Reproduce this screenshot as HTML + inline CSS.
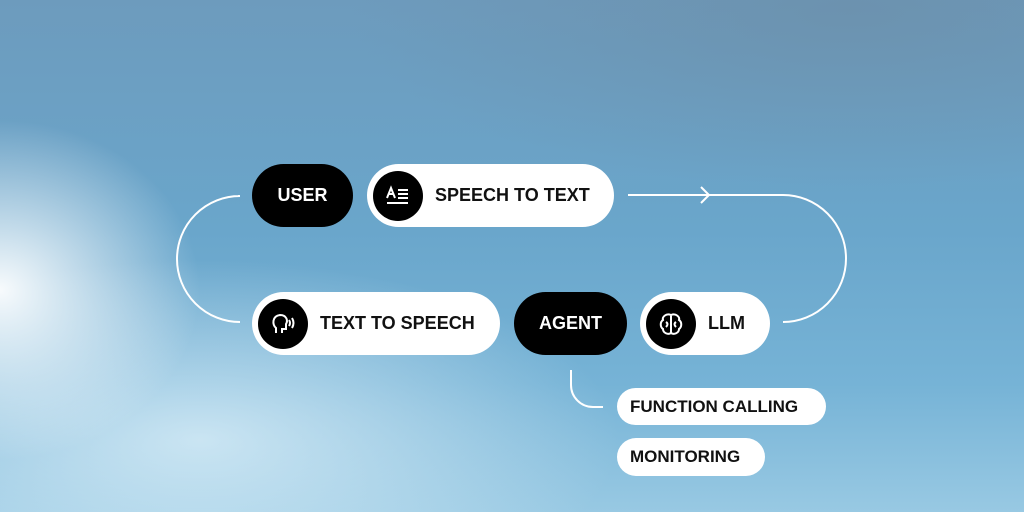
<!DOCTYPE html>
<html><head><style>
body{margin:0;width:1024px;height:512px;overflow:hidden;position:relative;font-family:"Liberation Sans",sans-serif;
background:
radial-gradient(ellipse 200px 170px at 0px 290px, rgba(255,255,255,0.95), rgba(255,255,255,0) 100%),
radial-gradient(ellipse 420px 180px at 200px 440px, rgba(225,242,250,0.75), rgba(225,242,250,0) 100%),
radial-gradient(ellipse 500px 180px at 850px 10px, rgba(108,140,165,0.6), rgba(108,140,165,0) 100%),
linear-gradient(180deg,#6d9bbd 0%,#6aa6cb 45%,#76b3d6 75%,#98c9e3 100%);}
.p{position:absolute;box-sizing:border-box;border-radius:40px;display:flex;align-items:center;font-weight:bold;font-size:18px;letter-spacing:0px;}
.b{background:#000;color:#fff;justify-content:center}
.w{background:#fff;color:#111}
.ic{width:50px;height:50px;border-radius:50%;background:#000;margin-left:6px;margin-right:12px;flex:none;display:flex;align-items:center;justify-content:center}
.s{font-size:17px;padding-left:13px}
</style></head><body>
<svg width="1024" height="512" style="position:absolute;left:0;top:0" fill="none" stroke="#fff" stroke-width="2">
<path d="M238 196 L240 196 A63 63 0 0 0 240 322 L238 322"/>
<path d="M628 195 L783 195 A63 63.5 0 0 1 783 322"/>
<path d="M701 187 L709 195 L701 203"/>
<path d="M571 370 L571 385 A22 22 0 0 0 593 407 L603 407"/>
</svg>
<div class="p b" style="left:252px;top:164px;width:101px;height:63px">USER</div>
<div class="p w" style="left:367px;top:164px;width:247px;height:63px"><div class="ic"><svg width="26" height="22" stroke="#fff" stroke-width="2" fill="none"><path d="M2 13 L6 3 L10 13 M3.5 9 H8.5 M13 5 H23 M13 9 H23 M13 13 H23 M2 18 H23"/></svg></div>SPEECH TO TEXT</div>
<div class="p w" style="left:252px;top:292px;width:248px;height:63px"><div class="ic"><svg width="26" height="26" stroke="#fff" stroke-width="2" fill="none"><path d="M6 22 L6 17 C2 14 2 5 10 4 C17 4 18 10 16 13 L16 18 L12 18 L12 22"/><path d="M19 9 Q21 12 19 15 M22 7 Q25 12 22 17"/></svg></div>TEXT TO SPEECH</div>
<div class="p b" style="left:514px;top:292px;width:113px;height:63px">AGENT</div>
<div class="p w" style="left:640px;top:292px;width:130px;height:63px"><div class="ic"><svg width="26" height="26" stroke="#fff" stroke-width="2" fill="none"><path d="M13 4 C8 2 4 6 5 9 C2 11 2 16 5 18 C5 22 10 24 13 22 C16 24 21 22 21 18 C24 16 24 11 21 9 C22 6 18 2 13 4 Z M13 4 V22 M8 11 Q11 13 8 16 M18 11 Q15 13 18 16"/></svg></div>LLM</div>
<div class="p w s" style="left:617px;top:388px;width:209px;height:37px">FUNCTION CALLING</div>
<div class="p w s" style="left:617px;top:438px;width:148px;height:38px">MONITORING</div>
</body></html>
